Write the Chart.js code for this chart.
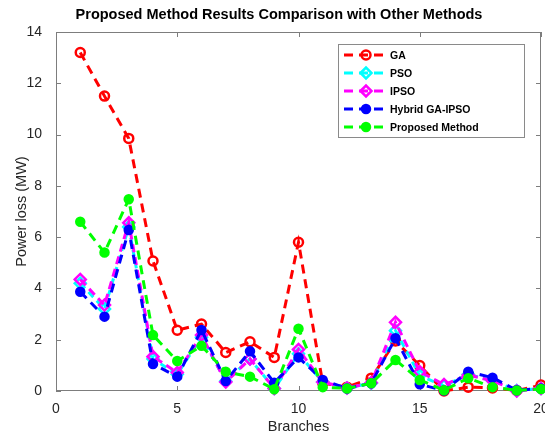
<!DOCTYPE html>
<html>
<head>
<meta charset="utf-8">
<title>Power loss comparison</title>
<script src="https://cdn.jsdelivr.net/npm/chart.js@4.4.1/dist/chart.umd.min.js"></script>
<style>
  html, body { margin: 0; padding: 0; background: #fff; }
  #wrap { width: 545px; height: 439px; position: relative; }
</style>
</head>
<body>
<div id="wrap"><canvas id="lossChart"></canvas></div>
<script>
// power loss per branch (MW) for each optimisation method
const branches = [1, 2, 3, 4, 5, 6, 7, 8, 9, 10, 11, 12, 13, 14, 15, 16, 17, 18, 19, 20];
const gaLoss       = [13.2, 11.5, 9.85, 5.07, 2.37, 2.61, 1.5, 1.92, 1.31, 5.8, 0.3, 0.15, 0.5, 1.95, 0.99, 0.0, 0.15, 0.12, 0.02, 0.23];
const psoLoss      = [4.2, 3.2, 6.4, 1.25, 0.65, 2.1, 0.38, 1.25, 0.1, 1.45, 0.35, 0.12, 0.3, 2.35, 0.6, 0.2, 0.65, 0.4, 0.02, 0.1];
const ipsoLoss     = [4.35, 3.35, 6.56, 1.34, 0.72, 2.18, 0.35, 1.25, 0.1, 1.62, 0.35, 0.12, 0.32, 2.68, 0.75, 0.25, 0.62, 0.4, 0.0, 0.1];
const hybridLoss   = [3.87, 2.9, 6.28, 1.05, 0.56, 2.38, 0.39, 1.55, 0.32, 1.31, 0.43, 0.1, 0.3, 2.06, 0.26, 0.02, 0.75, 0.52, 0.03, 0.1];
const proposedLoss = [6.6, 5.4, 7.48, 2.18, 1.17, 1.76, 0.75, 0.56, 0.07, 2.43, 0.15, 0.1, 0.3, 1.21, 0.43, 0.03, 0.5, 0.15, 0.02, 0.08];

const xTicksStep = 5;
const yTicksStep = 2;

const toPoints = arr => branches.map((b, i) => ({ x: b, y: arr[i] }));

const series = [
  { label: 'GA',              data: gaLoss,       color: '#ff0000', style: 'circle',  filled: false, radius: 4.5, dash: [9, 6], order: 5 },
  { label: 'PSO',             data: psoLoss,      color: '#00ffff', style: 'rectRot', filled: false, radius: 5.5, dash: [7, 5], order: 4 },
  { label: 'IPSO',            data: ipsoLoss,     color: '#ff00ff', style: 'rectRot', filled: false, radius: 5.5, dash: [8, 5], order: 3 },
  { label: 'Hybrid GA-IPSO',  data: hybridLoss,   color: '#0000ff', style: 'circle',  filled: true,  radius: 4,   dash: [9, 6], order: 2 },
  { label: 'Proposed Method', data: proposedLoss, color: '#00ff00', style: 'circle',  filled: true,  radius: 4,   dash: [9, 6], order: 1 }
];

// matlab style box around the axes with inward tick marks
const boxFrame = {
  id: 'boxFrame',
  beforeDatasetsDraw(chart) {
    const { ctx, chartArea: a, scales: { x, y } } = chart;
    ctx.save();
    ctx.strokeStyle = '#7d7d7d';
    ctx.lineWidth = 1;
    ctx.strokeRect(a.left + 0.5, a.top + 0.5, a.right - a.left - 1, a.bottom - a.top - 1);
    ctx.beginPath();
    x.ticks.forEach(t => {
      const px = Math.round(x.getPixelForValue(t.value)) + 0.5;
      ctx.moveTo(px, a.bottom); ctx.lineTo(px, a.bottom - 5);
      ctx.moveTo(px, a.top); ctx.lineTo(px, a.top + 5);
    });
    y.ticks.forEach(t => {
      const py = Math.round(y.getPixelForValue(t.value)) + 0.5;
      ctx.moveTo(a.left, py); ctx.lineTo(a.left + 5, py);
      ctx.moveTo(a.right, py); ctx.lineTo(a.right - 5, py);
    });
    ctx.stroke();
    ctx.restore();
  }
};

// title and boxed legend in the upper right corner
const legendBox = {
  id: 'legendBox',
  afterDraw(chart) {
    const { ctx } = chart;
    ctx.save();
    ctx.fillStyle = '#000';
    ctx.font = 'bold 14.5px "Liberation Sans", Arial, sans-serif';
    ctx.textAlign = 'center';
    ctx.textBaseline = 'middle';
    ctx.fillText('Proposed Method Results Comparison with Other Methods', 279, 15);

    const bx = 338, by = 44, bw = 186, bh = 93;
    ctx.fillStyle = '#fff';
    ctx.fillRect(bx, by, bw, bh);
    ctx.strokeStyle = '#8a8a8a';
    ctx.lineWidth = 1;
    ctx.strokeRect(bx + 0.5, by + 0.5, bw, bh);

    ctx.font = 'bold 10.5px "Liberation Sans", Arial, sans-serif';
    ctx.textAlign = 'left';
    chart.data.datasets.forEach((ds, i) => {
      const rowY = 55 + i * 18;
      ctx.strokeStyle = ds.borderColor;
      ctx.lineWidth = 3;
      ctx.setLineDash([9, 6]);
      ctx.beginPath();
      ctx.moveTo(344, rowY); ctx.lineTo(384, rowY);
      ctx.stroke();
      ctx.setLineDash([]);
      ctx.fillStyle = ds.pointBackgroundColor;
      ctx.strokeStyle = ds.pointBorderColor;
      ctx.lineWidth = ds.pointBorderWidth;
      Chart.helpers.drawPoint(ctx, {
        pointStyle: ds.pointStyle, radius: ds.pointRadius, rotation: 0, borderWidth: ds.pointBorderWidth
      }, 366, rowY);
      ctx.fillStyle = '#000';
      ctx.fillText(ds.label, 390, rowY + 1);
    });
    ctx.restore();
  }
};

const tickFont = { family: '"Liberation Sans", Arial, sans-serif', size: 14 };
const labelFont = { family: '"Liberation Sans", Arial, sans-serif', size: 14.5 };

new Chart(document.getElementById('lossChart'), {
  type: 'line',
  data: {
    datasets: series.map(s => ({
      label: s.label,
      data: toPoints(s.data),
      borderColor: s.color,
      backgroundColor: s.color,
      borderWidth: 3,
      borderDash: s.dash,
      pointStyle: s.style,
      pointRadius: s.radius,
      pointBorderWidth: 2.5,
      pointBorderColor: s.color,
      pointBackgroundColor: s.filled ? s.color : 'rgba(255,255,255,0)',
      tension: 0,
      fill: false,
      clip: false,
      order: s.order
    }))
  },
  options: {
    responsive: true,
    maintainAspectRatio: false,
    animation: false,
    layout: { padding: { top: 32, right: 4, left: 0, bottom: 0 }, autoPadding: false },
    plugins: {
      legend: { display: false },
      title: { display: false },
      tooltip: { enabled: false }
    },
    scales: {
      x: {
        type: 'linear',
        min: 0,
        max: 20,
        grid: { display: false },
        border: { display: false },
        ticks: { stepSize: xTicksStep, color: '#262626', font: tickFont, padding: 1.5, maxRotation: 0 },
        title: { display: true, text: 'Branches', color: '#262626', font: labelFont, padding: { top: 0, bottom: 3 } },
        afterFit(s) { s.height = 48; s.paddingLeft = 0; s.paddingRight = 0; }
      },
      y: {
        min: 0,
        max: 14,
        grid: { display: false },
        border: { display: false },
        ticks: { stepSize: yTicksStep, color: '#262626', font: tickFont, padding: 6 },
        title: { display: true, text: 'Power loss (MW)', color: '#262626', font: labelFont, padding: { top: 13, bottom: 0 } },
        afterFit(s) { s.width = 56; s.paddingTop = 0; s.paddingBottom = 0; }
      }
    }
  },
  plugins: [boxFrame, legendBox]
});
</script>
</body>
</html>
